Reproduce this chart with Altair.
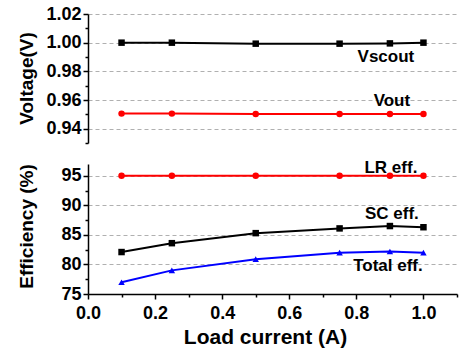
import altair as alt
import pandas as pd

load_current = [0.1, 0.25, 0.5, 0.75, 0.9, 1.0]
vscout = [1.000, 1.000, 0.9993, 0.9993, 0.9995, 1.000]
vout = [0.9505, 0.9505, 0.9502, 0.9502, 0.9502, 0.9502]
lr_eff = [95.0, 95.0, 95.0, 95.0, 95.0, 95.0]
sc_eff = [82.1, 83.6, 85.3, 86.1, 86.5, 86.3]
total_eff = [77.0, 79.0, 80.9, 82.0, 82.2, 82.0]

all_series = ["Vscout", "Vout", "LR eff.", "SC eff.", "Total eff."]
series_colors = ["#000000", "#ff0000", "#ff0000", "#000000", "#0000ff"]
series_shapes = ["square", "circle", "circle", "square", "triangle-up"]

x_ticks = [0.0, 0.1, 0.2, 0.3, 0.4, 0.5, 0.6, 0.7, 0.8, 0.9, 1.0, 1.1]
v_ticks = [0.93, 0.94, 0.95, 0.96, 0.97, 0.98, 0.99, 1.00, 1.01, 1.02]
e_ticks = [75, 77.5, 80, 82.5, 85, 87.5, 90, 92.5, 95]

FONT = "Liberation Sans"

df_v = pd.DataFrame({
    "x": load_current * 2,
    "y": vscout + vout,
    "series": ["Vscout"] * 6 + ["Vout"] * 6,
})
df_e = pd.DataFrame({
    "x": load_current * 3,
    "y": lr_eff + sc_eff + total_eff,
    "series": ["LR eff."] * 6 + ["SC eff."] * 6 + ["Total eff."] * 6,
})

color_scale = alt.Scale(domain=all_series, range=series_colors)
shape_scale = alt.Scale(domain=all_series, range=series_shapes)

x_scale = alt.Scale(domain=[0, 1.1], nice=False, zero=False)

x_axis = alt.Axis(
    values=x_ticks,
    labelExpr="round(datum.value*10) % 2 == 0 ? format(datum.value, '.1f') : ''",
    tickSize={"condition": {"test": "round(datum.value*10) % 2 == 0", "value": 5}, "value": 3},
    grid=False,
    labelOverlap=False,
    labelFlush=False,
    title="Load current (A)",
    titleX=177,
    labelFontSize=18,
    titleFontSize=21,
    labelPadding=5,
    titlePadding=4,
)

v_axis = alt.Axis(
    values=v_ticks,
    labelExpr="round(datum.value*100) % 2 == 0 ? format(datum.value, '.2f') : ''",
    tickSize={"condition": {"test": "round(datum.value*100) % 2 == 0", "value": 5}, "value": 3},
    gridOpacity={"condition": {"test": "round(datum.value*100) % 2 == 0", "value": 1}, "value": 0},
    grid=True,
    labelOverlap=False,
    title="Voltage(V)",
    titleX=-62,
    titleY=64,
    titleAngle=270,
    titleAlign="center",
    titleBaseline="middle",
    labelFontSize=18,
    titleFontSize=19,
    labelPadding=2,
)

e_axis = alt.Axis(
    values=e_ticks,
    labelExpr="datum.value % 5 == 0 ? format(datum.value, 'd') : ''",
    tickSize={"condition": {"test": "datum.value % 5 == 0", "value": 5}, "value": 3},
    gridOpacity={"condition": {"test": "datum.value % 5 == 0 && datum.value > 75", "value": 1}, "value": 0},
    grid=True,
    labelOverlap=False,
    title="Efficiency (%)",
    titleX=-62,
    titleY=62,
    titleAngle=270,
    titleAlign="center",
    titleBaseline="middle",
    labelFontSize=18,
    titleFontSize=19,
    labelPadding=2,
)


def panel(df, y_scale, y_axis, x_ax, labels, height):
    base = alt.Chart(df)
    enc_x = alt.X("x:Q", scale=x_scale, axis=x_ax)
    enc_y = alt.Y("y:Q", scale=y_scale, axis=y_axis)
    line = base.mark_line(strokeWidth=2).encode(
        x=enc_x, y=enc_y,
        color=alt.Color("series:N", scale=color_scale, legend=None),
        detail="series:N",
    )
    pts = base.mark_point(filled=True, size=42, opacity=1).encode(
        x=enc_x, y=enc_y,
        color=alt.Color("series:N", scale=color_scale, legend=None),
        shape=alt.Shape("series:N", scale=shape_scale, legend=None),
    )
    layers = [line, pts]
    for name, dx, dy in labels:
        layers.append(
            base.transform_filter(f"datum.series == '{name}' && datum.x == 0.9")
            .mark_text(font=FONT, fontWeight="bold", fontSize=17, color="black",
                       dx=dx, dy=dy, baseline="middle", align="center")
            .encode(x=enc_x, y=enc_y, text="series:N")
        )
    return alt.layer(*layers).properties(width=369, height=height)


top = panel(
    df_v, alt.Scale(domain=[0.93, 1.02], nice=False, zero=False), v_axis, None,
    [("Vscout", -4, 14), ("Vout", 2, -13)], 129,
)
bottom = panel(
    df_e, alt.Scale(domain=[75, 97], nice=False, zero=False), e_axis, x_axis,
    [("LR eff.", 1, -8), ("SC eff.", 2, -12), ("Total eff.", -2, 15)], 130,
)

chart = alt.vconcat(top, bottom, spacing=6).properties(
    padding={"left": 16, "top": 5, "right": 5, "bottom": 3}
).configure_view(stroke=None).configure_axis(
    domainColor="black",
    domainWidth=1.5,
    tickColor="black",
    tickWidth=1.5,
    labelFont=FONT,
    labelFontWeight="bold",
    labelColor="black",
    titleFont=FONT,
    titleFontWeight="bold",
    titleColor="black",
    gridColor="#b0b0b0",
    gridDash=[4, 3],
    gridWidth=1,
)

chart.save("out.html", embed_options={"renderer": "svg", "actions": False})
